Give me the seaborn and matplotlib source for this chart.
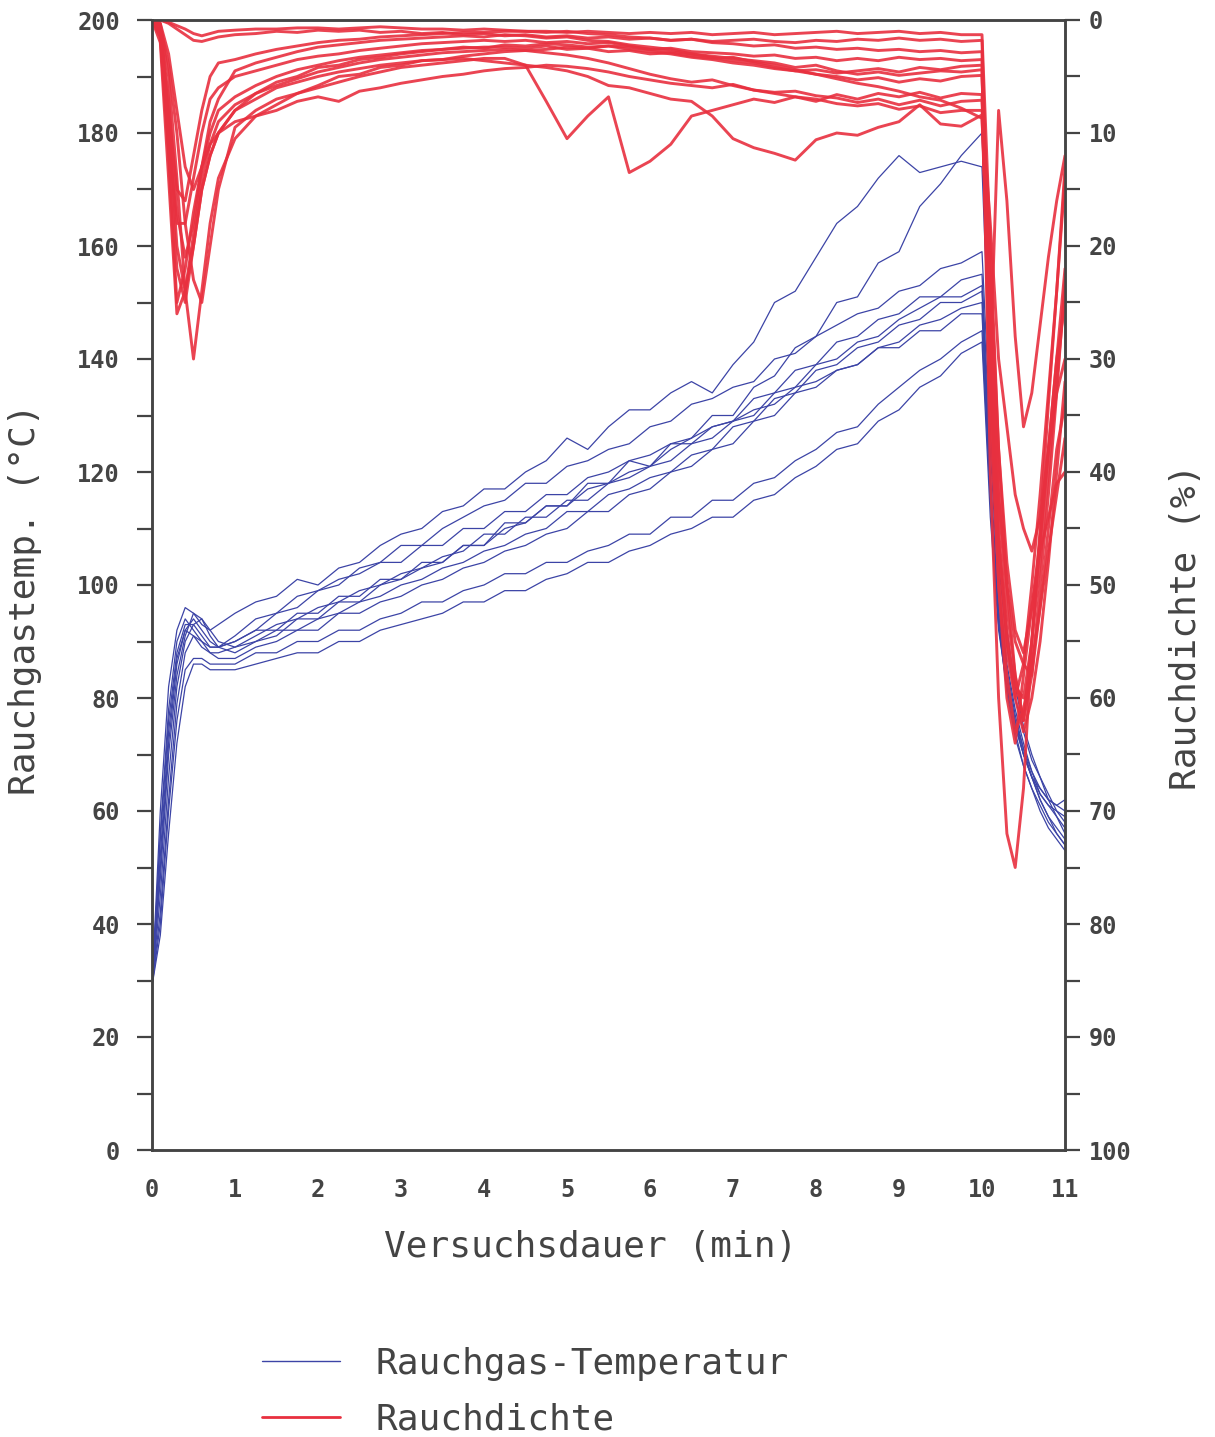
import pandas as pd
import matplotlib
matplotlib.use("Agg")
import matplotlib.pyplot as plt
from matplotlib.lines import Line2D
from matplotlib.ticker import MultipleLocator
import seaborn as sns

# sampling times (min), shared by all runs
minutes = [0.0, 0.1, 0.2, 0.3, 0.4, 0.5, 0.6, 0.7, 0.8,
           1.0, 1.25, 1.5, 1.75, 2.0, 2.25, 2.5, 2.75, 3.0, 3.25,
           3.5, 3.75, 4.0, 4.25, 4.5, 4.75, 5.0, 5.25, 5.5, 5.75,
           6.0, 6.25, 6.5, 6.75, 7.0, 7.25, 7.5, 7.75, 8.0, 8.25,
           8.5, 8.75, 9.0, 9.25, 9.5, 9.75, 10.0,
           10.1, 10.2, 10.3, 10.4, 10.5, 10.6, 10.7, 10.8, 10.9, 11.0]

# Rauchgas-Temperatur (°C), one list per test run
temp_run01 = [29, 60, 82, 92, 96, 95, 93, 92, 93,
              95, 97, 98, 101, 100, 103, 104, 107, 109, 110,
              113, 114, 117, 117, 120, 122, 126, 124, 128, 131,
              131, 134, 136, 134, 139, 143, 150, 152, 158, 164,
              167, 172, 176, 173, 174, 175, 174,
              135, 104, 89, 80, 74, 69, 66, 63, 60, 58]
temp_run02 = [29, 50, 72, 86, 92, 94, 92, 90, 89,
              90, 92, 92, 95, 95, 98, 98, 101, 101, 104,
              104, 107, 107, 111, 111, 114, 114, 118, 118, 122,
              121, 125, 126, 130, 130, 135, 137, 142, 144, 150,
              151, 157, 159, 167, 171, 176, 180,
              140, 108, 92, 82, 75, 70, 66, 62, 59, 56]
temp_run03 = [29, 55, 76, 88, 93, 93, 91, 89, 89,
              90, 92, 95, 96, 99, 100, 103, 104, 107, 107,
              110, 112, 114, 115, 118, 118, 121, 122, 124, 125,
              128, 129, 132, 133, 135, 136, 140, 141, 144, 146,
              148, 149, 152, 153, 156, 157, 159,
              128, 100, 86, 78, 72, 67, 63, 61, 59, 57]
temp_run04 = [29, 48, 70, 84, 91, 95, 94, 91, 89,
              88, 90, 91, 94, 94, 97, 97, 100, 101, 103,
              104, 107, 107, 110, 111, 114, 114, 117, 118, 120,
              121, 124, 126, 128, 129, 133, 134, 138, 139, 143,
              144, 147, 148, 151, 151, 154, 155,
              124, 98, 85, 77, 71, 66, 62, 59, 56, 54]
temp_run05 = [29, 52, 74, 87, 92, 91, 89, 88, 88,
              89, 91, 93, 94, 96, 97, 99, 100, 102, 103,
              105, 106, 109, 109, 112, 112, 115, 115, 118, 119,
              121, 122, 125, 126, 129, 130, 134, 135, 139, 140,
              143, 144, 147, 149, 151, 151, 153,
              120, 96, 84, 76, 70, 66, 62, 59, 57, 55]
temp_run06 = [29, 45, 66, 82, 90, 93, 94, 92, 90,
              89, 90, 92, 92, 94, 95, 97, 98, 100, 101,
              103, 104, 106, 107, 109, 110, 113, 113, 116, 117,
              119, 120, 123, 124, 128, 129, 133, 134, 138, 139,
              142, 143, 146, 147, 150, 150, 152,
              118, 94, 82, 74, 68, 64, 60, 57, 55, 53]
temp_run07 = [29, 42, 62, 79, 88, 91, 90, 88, 87,
              87, 89, 90, 92, 92, 95, 95, 97, 98, 100,
              101, 103, 104, 106, 107, 109, 110, 113, 113, 116,
              117, 120, 121, 124, 125, 129, 130, 134, 135, 138,
              139, 142, 143, 146, 147, 149, 150,
              116, 93, 81, 73, 68, 64, 61, 58, 56, 54]
temp_run08 = [29, 56, 78, 90, 94, 92, 90, 89, 89,
              91, 94, 95, 98, 99, 101, 102, 104, 104, 107,
              107, 110, 110, 113, 113, 116, 116, 119, 120, 122,
              123, 125, 125, 128, 129, 131, 132, 135, 136, 138,
              139, 142, 142, 145, 145, 148, 148,
              117, 95, 83, 76, 71, 67, 64, 62, 61, 60]
temp_run09 = [29, 40, 60, 76, 85, 87, 87, 86, 86,
              86, 88, 88, 90, 90, 92, 92, 94, 95, 97,
              97, 99, 100, 102, 102, 104, 104, 106, 107, 109,
              109, 112, 112, 115, 115, 118, 119, 122, 124, 127,
              128, 132, 135, 138, 140, 143, 145,
              115, 93, 82, 75, 70, 66, 63, 61, 60, 59]
temp_run10 = [29, 38, 56, 72, 82, 86, 86, 85, 85,
              85, 86, 87, 88, 88, 90, 90, 92, 93, 94,
              95, 97, 97, 99, 99, 101, 102, 104, 104, 106,
              107, 109, 110, 112, 112, 115, 116, 119, 121, 124,
              125, 129, 131, 135, 137, 141, 143,
              112, 92, 82, 75, 70, 66, 64, 62, 61, 62]

# Rauchdichte (%), one list per test run
smoke_run01 = [0, 0, 0.2, 0.5, 0.8, 1.2, 1.4, 1.2, 1.0,
               0.9, 0.8, 0.8, 0.7, 0.7, 0.8, 0.7, 0.6, 0.7, 0.8,
               0.8, 0.9, 0.8, 0.9, 1.0, 1.0, 1.1, 1.0, 1.1, 1.2,
               1.1, 1.2, 1.1, 1.3, 1.2, 1.1, 1.3, 1.2, 1.1, 1.0,
               1.2, 1.1, 1.0, 1.2, 1.1, 1.3, 1.3,
               20, 38, 50, 58, 62, 55, 45, 34, 24, 13]
smoke_run02 = [0, 0, 0.3, 0.8, 1.3, 1.8, 1.9, 1.7, 1.5,
               1.3, 1.2, 1.0, 1.1, 0.9, 1.0, 0.9, 1.1, 1.0, 1.2,
               1.1, 1.3, 1.2, 1.4, 1.3, 1.5, 1.4, 1.6, 1.5, 1.7,
               1.6, 1.8, 1.7, 1.9, 1.8, 1.7, 1.9, 2.0, 1.8, 1.9,
               1.7, 1.8, 1.6, 1.8, 1.7, 1.9, 1.8,
               30, 8, 16, 28, 36, 33, 27, 21, 16, 12]
smoke_run03 = [0, 0.5, 8, 15, 16, 12, 8, 5, 3.8,
               3.5, 3.0, 2.6, 2.3, 2.0, 1.8, 1.7, 1.5, 1.4, 1.3,
               1.2, 1.1, 1.1, 1.0, 1.0, 1.1, 1.0, 1.2, 1.3, 1.5,
               1.6, 1.8, 1.7, 2.0, 2.1, 2.3, 2.2, 2.5, 2.4, 2.6,
               2.5, 2.7, 2.6, 2.8, 2.7, 2.9, 2.8,
               30, 48, 56, 60, 57, 50, 42, 33, 24, 14]
smoke_run04 = [0, 0.3, 5, 14, 24, 30, 24, 18, 14,
               10.5, 8.5, 7.5, 6.5, 5.8, 5.0, 4.8, 4.2, 4.0, 3.6,
               3.5, 3.2, 3.0, 2.8, 2.7, 2.6, 2.4, 2.5, 2.3, 2.4,
               2.6, 2.5, 2.8, 2.9, 3.0, 3.2, 3.1, 3.4, 3.3, 3.6,
               3.4, 3.6, 3.3, 3.5, 3.4, 3.6, 3.5,
               25, 42, 52, 58, 62, 58, 50, 42, 33, 23]
smoke_run05 = [0, 2, 14, 26, 24, 20, 15, 12, 10,
               8.0, 6.5, 5.5, 5.0, 4.2, 4.0, 3.5, 3.3, 3.0, 2.8,
               2.6, 2.4, 2.5, 2.2, 2.3, 2.1, 2.2, 2.4, 2.3, 2.6,
               2.8, 3.0, 3.3, 3.5, 3.8, 4.0, 4.3, 4.5, 4.4, 4.7,
               4.5, 4.3, 4.6, 4.2, 4.4, 4.1, 4.0,
               40, 60, 72, 75, 68, 55, 46, 38, 33, 30]
smoke_run06 = [0, 1, 10, 18, 18, 14, 10, 7, 6,
               5.0, 4.5, 4.0, 3.5, 3.2, 3.0, 2.7, 2.5, 2.3, 2.1,
               2.0, 1.9, 1.8, 1.9, 1.8, 2.0, 1.9, 2.1, 2.0, 2.3,
               2.6, 2.8, 3.0, 3.2, 3.4, 3.6, 3.8, 4.2, 4.0, 4.5,
               4.8, 4.6, 4.9, 4.7, 4.5, 4.6, 4.4,
               35, 50, 58, 63, 61, 57, 52, 47, 42, 37]
smoke_run07 = [0, 0.3, 3, 8, 13, 15, 13, 9, 7,
               4.5, 3.8, 3.3, 2.8, 2.4, 2.2, 2.0, 1.8, 1.7, 1.6,
               1.5, 1.4, 1.5, 1.3, 1.4, 1.6, 1.5, 1.8, 1.9, 2.2,
               2.4, 2.6, 3.0, 3.3, 3.6, 3.8, 4.2, 4.5, 4.8, 5.0,
               5.3, 5.1, 5.5, 5.2, 5.4, 5.0, 4.9,
               28, 45, 55, 59, 60, 55, 48, 40, 32, 24]
smoke_run08 = [0, 0.5, 4, 10, 18, 23, 25, 20, 15,
               9.5, 8.0, 7.0, 6.5, 6.0, 5.5, 5.0, 4.6, 4.2, 4.0,
               3.8, 3.6, 3.4, 3.4, 4.0, 7.2, 10.5, 8.5, 6.8, 13.5,
               12.5, 11.0, 8.5, 8.0, 7.5, 7.0, 7.3, 6.8, 7.2, 6.6,
               7.0, 6.5, 6.8, 6.4, 6.9, 6.5, 6.6,
               32, 50, 60, 64, 58, 52, 47, 44, 41, 40]
smoke_run09 = [0, 1.5, 12, 25, 22, 17, 13, 11, 10,
               9.0, 8.5, 8.0, 7.2, 6.8, 7.2, 6.3, 6.0, 5.6, 5.3,
               5.0, 4.8, 4.5, 4.3, 4.2, 4.0, 4.1, 4.3, 4.6, 5.0,
               5.3, 5.6, 5.8, 6.0, 5.7, 6.2, 6.4, 6.3, 6.7, 6.9,
               7.3, 7.0, 7.5, 7.1, 7.6, 7.2, 7.1,
               22, 38, 48, 54, 56, 52, 46, 38, 30, 22]
smoke_run10 = [0, 1, 9, 20, 24, 19, 14, 11, 9,
               7.5, 6.5, 5.8, 5.2, 4.6, 4.2, 3.8, 3.5, 3.3, 3.1,
               2.9, 2.8, 2.7, 2.6, 2.7, 2.9, 3.1, 3.4, 3.8, 4.3,
               4.8, 5.2, 5.5, 5.3, 5.8, 6.2, 6.5, 6.8, 7.0, 7.4,
               7.6, 7.4, 7.9, 7.6, 8.2, 8.0, 8.0,
               18, 30, 36, 42, 45, 47, 44, 38, 30, 25]
smoke_run11 = [0, 1.2, 11, 22, 25, 20, 15, 12, 10,
               8.0, 7.0, 6.0, 5.5, 5.0, 4.6, 4.3, 4.0, 3.8, 3.6,
               3.5, 3.4, 3.6, 3.8, 4.0, 4.2, 4.5, 5.0, 5.8, 6.0,
               6.5, 7.0, 7.2, 8.5, 10.5, 11.3, 11.8, 12.4, 10.6, 10.0,
               10.2, 9.5, 9.0, 7.5, 9.2, 9.4, 8.4,
               30, 46, 54, 60, 63, 60, 55, 48, 40, 32]
smoke_run12 = [0, 0.8, 7, 17, 21, 18, 13, 10, 8,
               6.8, 5.8, 5.0, 4.4, 4.0, 3.6, 3.3, 3.1, 2.9, 2.7,
               2.6, 2.5, 2.4, 2.4, 2.5, 2.3, 2.6, 2.5, 2.8, 2.7,
               3.0, 2.9, 3.2, 3.4, 3.3, 3.7, 4.0, 4.4, 4.8, 5.2,
               5.6, 5.9, 6.3, 6.8, 7.1, 7.8, 8.7,
               26, 42, 50, 55, 57, 58, 52, 45, 38, 34]

temp_runs = [temp_run01, temp_run02, temp_run03, temp_run04, temp_run05,
             temp_run06, temp_run07, temp_run08, temp_run09, temp_run10]
smoke_runs = [smoke_run01, smoke_run02, smoke_run03, smoke_run04,
              smoke_run05, smoke_run06, smoke_run07, smoke_run08,
              smoke_run09, smoke_run10, smoke_run11, smoke_run12]

BLUE = "#3c44a6"
RED = "#e8303f"
INK = "#444444"


def to_long(runs, value_name):
    rows = []
    for run_id, values in enumerate(runs):
        for t, v in zip(minutes, values):
            rows.append({"run": run_id, "min": t, value_name: v})
    return pd.DataFrame(rows)


df_temp = to_long(temp_runs, "temp")
df_smoke = to_long(smoke_runs, "smoke")

sns.set_style("white")
plt.rcParams["font.family"] = ["DejaVu Sans Mono", "DejaVu Sans"]

fig = plt.figure(figsize=(12.15, 14.37), dpi=100)
ax = fig.add_axes([152 / 1215, 1 - 1150 / 1437, (1065 - 152) / 1215, (1150 - 20) / 1437])
ax2 = ax.twinx()

sns.lineplot(data=df_temp, x="min", y="temp", units="run", estimator=None,
             sort=False, color=BLUE, lw=0.9, ax=ax, legend=False)
sns.lineplot(data=df_smoke, x="min", y="smoke", units="run", estimator=None,
             sort=False, color=RED, lw=2.1, alpha=0.9, ax=ax2, legend=False)

ax.set_xlim(0, 11)
ax.set_ylim(0, 200)
ax2.set_ylim(100, 0)

ax.xaxis.set_major_locator(MultipleLocator(1))
ax.xaxis.set_minor_locator(MultipleLocator(0.5))
ax.yaxis.set_major_locator(MultipleLocator(20))
ax.yaxis.set_minor_locator(MultipleLocator(10))
ax2.yaxis.set_major_locator(MultipleLocator(10))
ax2.yaxis.set_minor_locator(MultipleLocator(5))

tick_font = dict(labelsize=17, labelcolor=INK, color=INK, width=1.6, length=11)
ax.tick_params(axis="x", which="both", direction="out", pad=9, **tick_font)
ax.tick_params(axis="y", which="both", direction="out", pad=12, **tick_font)
ax2.tick_params(axis="y", which="both", direction="out", pad=6, **tick_font)
for lab in ax.get_xticklabels() + ax.get_yticklabels() + ax2.get_yticklabels():
    lab.set_fontweight("bold")

for a in (ax, ax2):
    for sp in a.spines.values():
        sp.set_visible(True)
        sp.set_color(INK)
        sp.set_linewidth(1.8)
ax.patch.set_visible(False)

label_font = dict(fontsize=26, color=INK)
ax.set_xlabel("Versuchsdauer (min)", **label_font)
ax.set_ylabel("Rauchgastemp. (°C)", **label_font)
ax2.set_ylabel("Rauchdichte (%)", **label_font)
ax.xaxis.set_label_coords(0.48, -0.071)
ax.yaxis.set_label_coords(-0.12, 0.487)
ax2.yaxis.set_label_coords(1.114, 0.463)

handles = [Line2D([], [], color=BLUE, lw=1.0), Line2D([], [], color=RED, lw=2.0)]
fig.legend(handles, ["Rauchgas-Temperatur", "Rauchdichte"], loc="upper left",
           bbox_to_anchor=(262 / 1215, 1 - 1347 / 1437), frameon=False,
           fontsize=26, labelcolor=INK, handlelength=2.15, handletextpad=1.0,
           labelspacing=0.6, borderpad=0, borderaxespad=0)

fig.savefig("out.png", dpi=100)
